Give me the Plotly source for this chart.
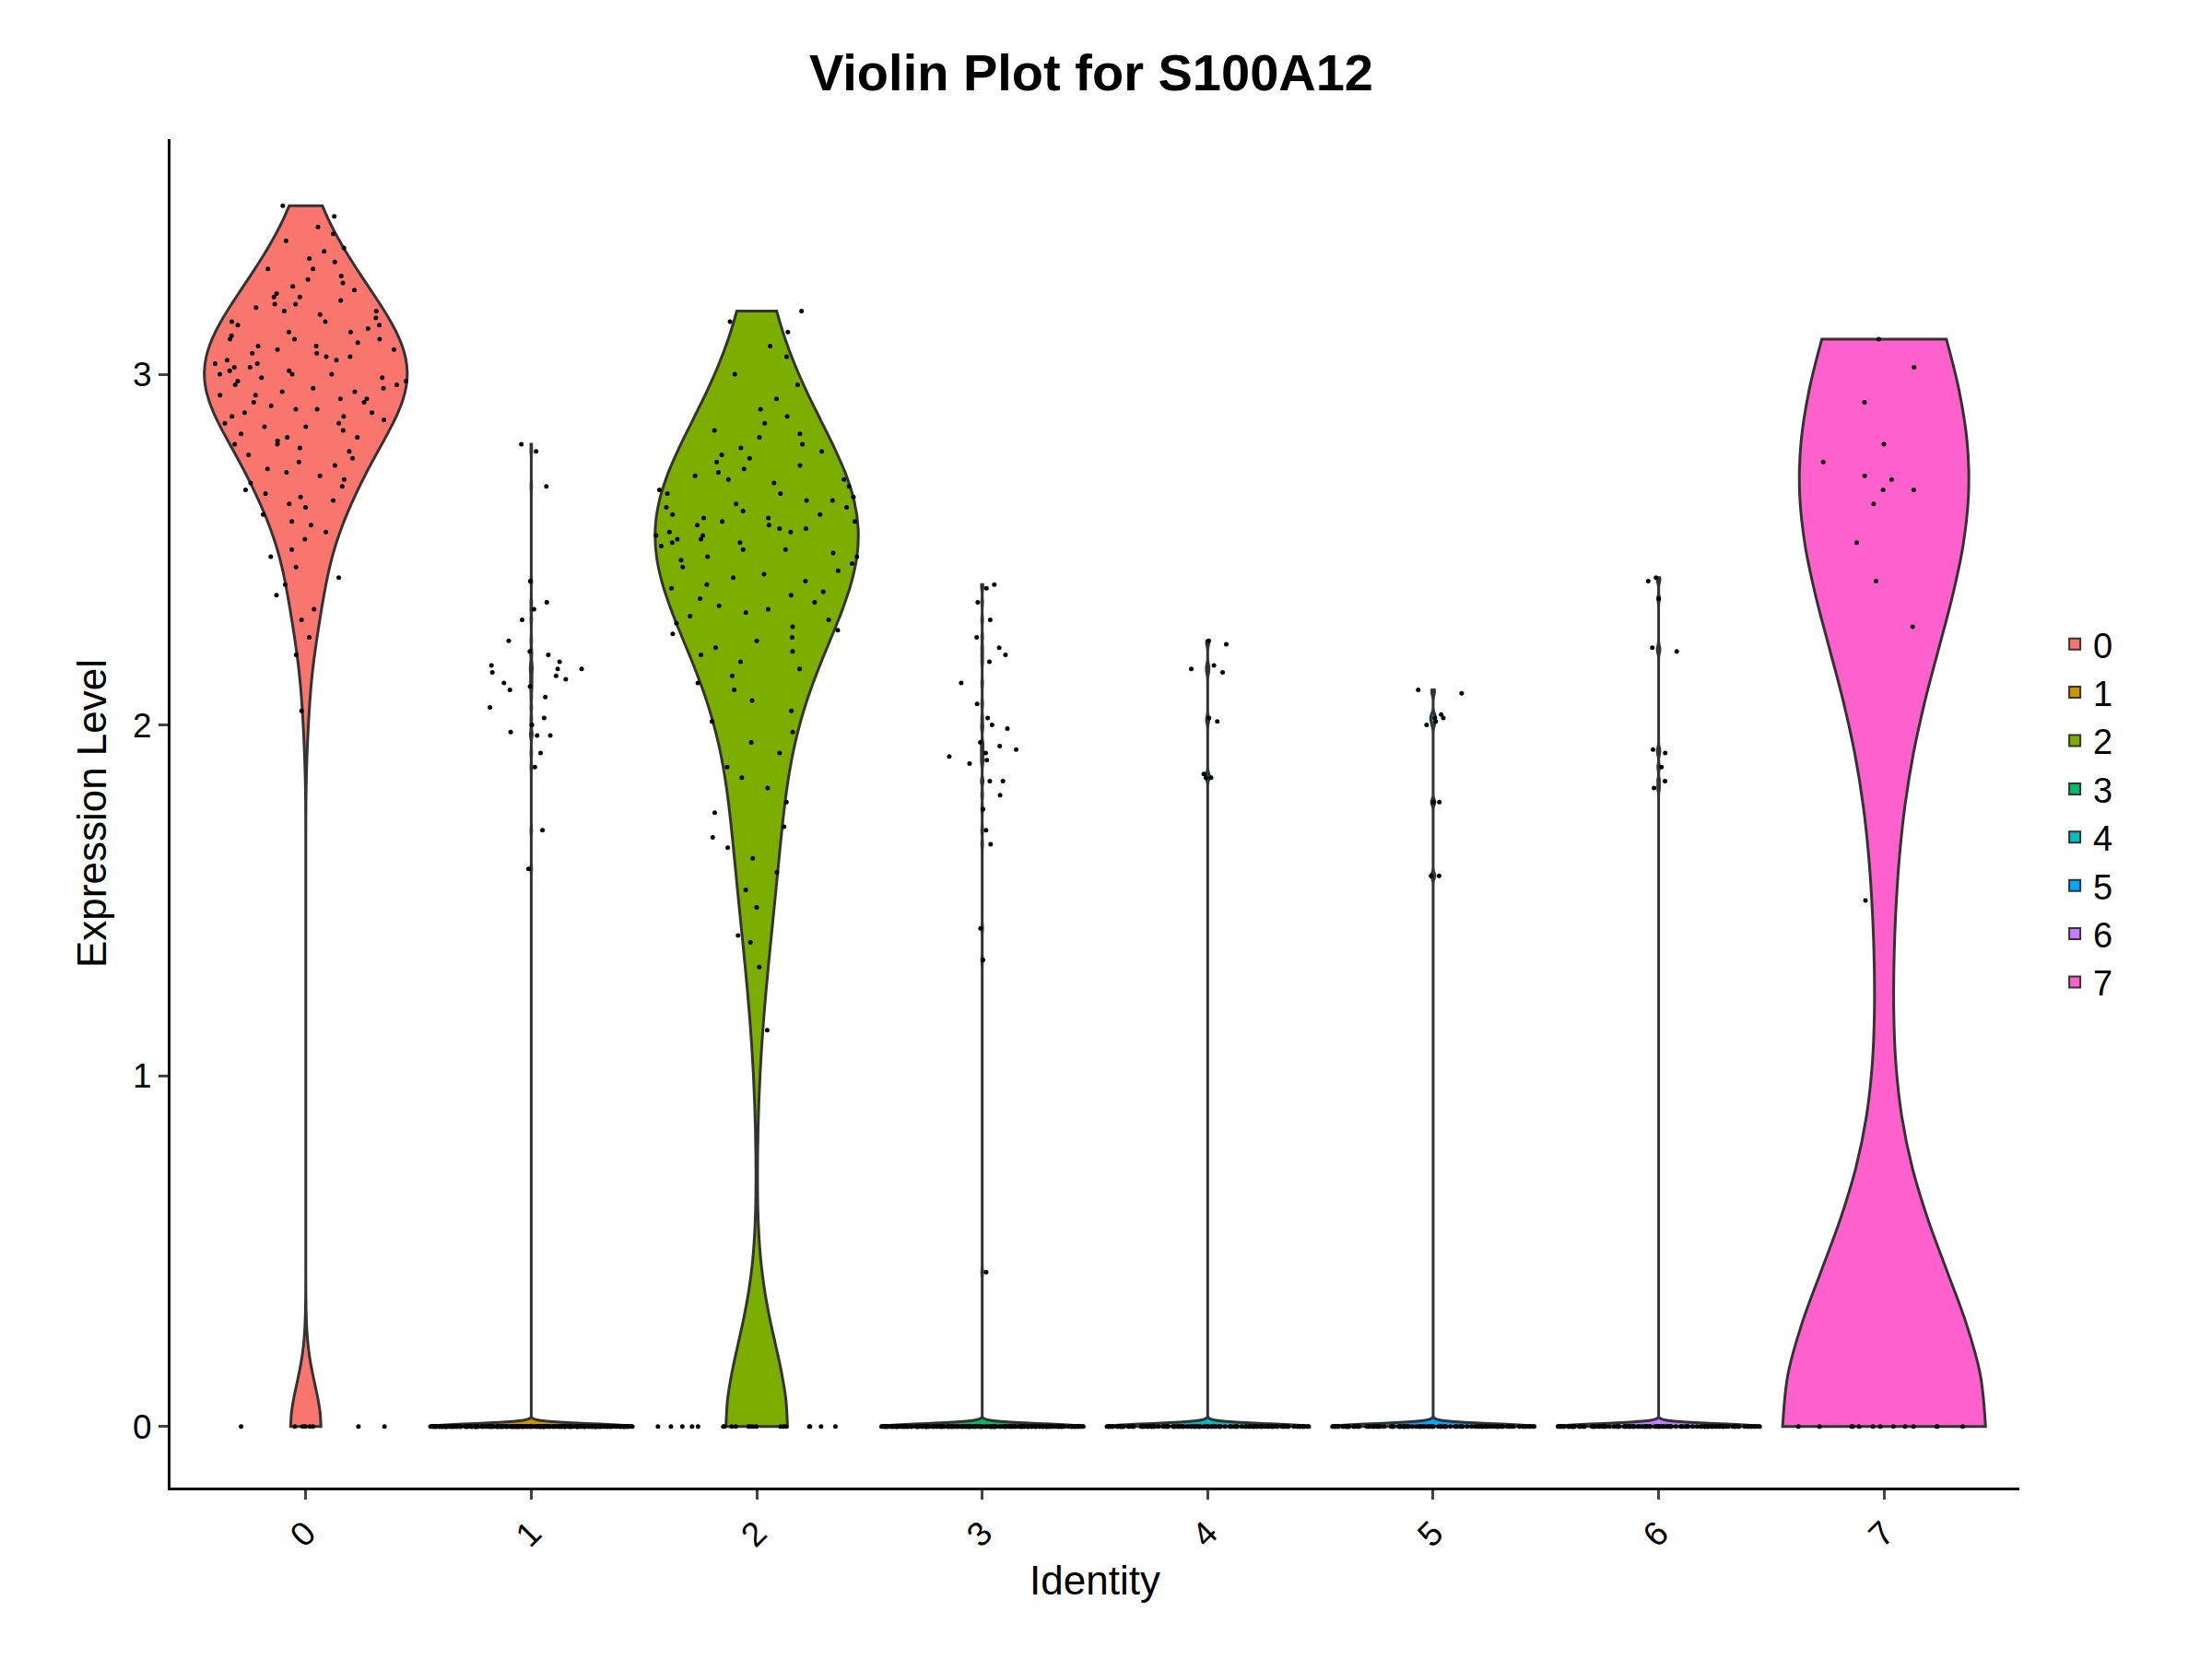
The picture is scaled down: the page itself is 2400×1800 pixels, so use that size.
import plotly.graph_objects as go

clusters = ["0", "1", "2", "3", "4", "5", "6", "7"]
colors = ["#F8766D", "#CD9600", "#7CAE00", "#00BE67", "#00BFC4", "#00A9FF", "#C77CFF", "#FF61CC"]

# expressing cells (non-zero values) per cluster
c0 = [3.48, 3.45, 3.42, 3.40, 3.38, 3.36, 3.35, 3.33, 3.32, 3.30, 3.30, 3.28, 3.27, 3.26, 3.25, 3.24,
      3.23, 3.22, 3.22, 3.21, 3.20, 3.20, 3.19, 3.18, 3.18, 3.17, 3.16, 3.15, 3.15, 3.14, 3.14, 3.13,
      3.12, 3.12, 3.11, 3.10, 3.10, 3.10, 3.09, 3.08, 3.08, 3.07, 3.07, 3.06, 3.06, 3.05, 3.05, 3.04,
      3.04, 3.03, 3.03, 3.02, 3.02, 3.01, 3.01, 3.00, 3.00, 3.00, 2.99, 2.99, 2.98, 2.98, 2.97, 2.97,
      2.96, 2.96, 2.95, 2.95, 2.94, 2.94, 2.93, 2.93, 2.92, 2.92, 2.91, 2.90, 2.90, 2.89, 2.89, 2.88,
      2.88, 2.87, 2.86, 2.86, 2.85, 2.85, 2.84, 2.83, 2.82, 2.82, 2.81, 2.80, 2.80, 2.79, 2.78, 2.77,
      2.76, 2.75, 2.74, 2.73, 2.72, 2.71, 2.70, 2.69, 2.68, 2.67, 2.66, 2.65, 2.64, 2.63, 2.62, 2.60,
      2.58, 2.57, 2.55, 2.53, 2.50, 2.48, 2.45, 2.42, 2.40, 2.37, 2.33, 2.30, 2.25, 2.20, 2.04]
c1 = [2.80, 2.78, 2.68, 2.41, 2.35, 2.33, 2.30, 2.24, 2.21, 2.20, 2.18, 2.17, 2.16, 2.16, 2.15, 2.14,
      2.13, 2.12, 2.11, 2.10, 2.08, 2.05, 2.02, 2.00, 1.98, 1.97, 1.97, 1.92, 1.88, 1.70, 1.59]
c2 = [3.18, 3.15, 3.12, 3.08, 3.05, 3.00, 2.97, 2.93, 2.90, 2.88, 2.86, 2.84, 2.83, 2.82, 2.80, 2.79,
      2.78, 2.77, 2.76, 2.75, 2.74, 2.73, 2.72, 2.71, 2.70, 2.70, 2.69, 2.68, 2.67, 2.66, 2.66, 2.65,
      2.64, 2.64, 2.63, 2.62, 2.62, 2.61, 2.60, 2.60, 2.59, 2.59, 2.58, 2.58, 2.57, 2.57, 2.56, 2.56,
      2.55, 2.55, 2.54, 2.54, 2.53, 2.53, 2.52, 2.52, 2.51, 2.50, 2.50, 2.49, 2.48, 2.48, 2.47, 2.46,
      2.45, 2.44, 2.43, 2.42, 2.41, 2.40, 2.39, 2.38, 2.37, 2.36, 2.35, 2.34, 2.33, 2.32, 2.31, 2.30,
      2.29, 2.28, 2.27, 2.26, 2.25, 2.24, 2.22, 2.21, 2.20, 2.18, 2.16, 2.14, 2.12, 2.10, 2.07, 2.04,
      2.01, 1.98, 1.95, 1.92, 1.88, 1.85, 1.82, 1.78, 1.75, 1.71, 1.68, 1.65, 1.62, 1.58, 1.53, 1.48,
      1.40, 1.38, 1.31, 1.13]
c3 = [2.40, 2.39, 2.35, 2.30, 2.25, 2.22, 2.20, 2.18, 2.12, 2.06, 2.02, 2.00, 1.99, 1.95, 1.94, 1.93,
      1.92, 1.91, 1.90, 1.89, 1.84, 1.84, 1.80, 1.76, 1.70, 1.66, 1.42, 1.33, 0.44]
c4 = [2.24, 2.23, 2.17, 2.16, 2.15, 2.02, 2.01, 1.86, 1.85, 1.85]
c5 = [2.10, 2.09, 2.03, 2.02, 2.02, 2.01, 2.00, 1.78, 1.78, 1.57, 1.57]
c6 = [2.42, 2.41, 2.36, 2.22, 2.21, 1.93, 1.92, 1.88, 1.84, 1.82]
c7 = [3.10, 3.02, 2.92, 2.80, 2.75, 2.71, 2.70, 2.67, 2.67, 2.63, 2.52, 2.41, 2.28, 1.50]
expressed = [c0, c1, c2, c3, c4, c5, c6, c7]
# number of cells with zero expression per cluster
zero_counts = [8, 300, 20, 250, 150, 120, 130, 14]
bandwidths = [None, 0.008, None, 0.008, 0.008, 0.008, 0.008, 0.45]

fig = go.Figure()
for name, col, vals, nz, bw in zip(clusters, colors, expressed, zero_counts, bandwidths):
    y = vals + [0.0] * nz
    fig.add_trace(go.Violin(
        name=name,
        x=[name] * len(y),
        y=y,
        fillcolor=col,
        line=dict(color="#333333", width=3),
        opacity=1,
        width=0.9,
        spanmode="hard",
        bandwidth=bw,
        points="all",
        jitter=1,
        pointpos=0,
        marker=dict(color="black", size=5),
        scalemode="width",
        hoveron="violins",
    ))

fig.update_layout(
    width=2400, height=1800,
    paper_bgcolor="white", plot_bgcolor="white",
    margin=dict(l=177, r=217, t=143, b=194),
    violinmode="overlay",
    font=dict(family="Liberation Sans, Arial", size=37, color="black"),
    title=dict(text="<b>Violin Plot for S100A12</b>", x=0.49, xanchor="center", y=0.972,
               font=dict(size=56)),
    legend=dict(x=1.02, y=0.5, yanchor="middle", font=dict(size=38), tracegroupgap=10,
                itemsizing="constant"),
)
fig.update_xaxes(
    type="category", categoryorder="array", categoryarray=clusters,
    range=[-0.6, 7.6], showline=True, linecolor="black", linewidth=3,
    ticks="outside", ticklen=10, tickwidth=3, tickangle=-45, showgrid=False,
    title=dict(text="Identity", font=dict(size=44)),
)
fig.update_yaxes(
    range=[-0.174, 3.67], tickvals=[0, 1, 2, 3], showline=True, linecolor="black", linewidth=3,
    ticks="outside", ticklen=10, tickwidth=3, showgrid=False, zeroline=False,
    title=dict(text="Expression Level", font=dict(size=44)),
)

fig.write_html("out.html")
